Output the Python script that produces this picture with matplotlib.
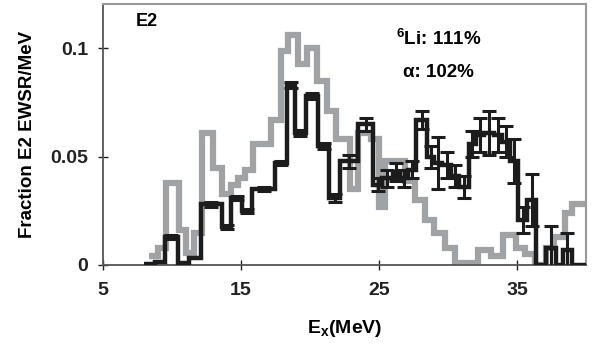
import matplotlib
matplotlib.use("Agg")
import matplotlib.pyplot as plt
import numpy as np

# ---- data ----
# grey histogram (alpha scattering)
gray_edges = [8.3, 9.0, 9.6, 10.5, 11.0, 11.6, 12.2, 13.0, 13.6, 14.3,
              14.8, 15.3, 15.9, 17.2, 17.9, 18.4, 19.1, 19.8, 20.5, 21.2,
              21.9, 22.9, 23.5, 24.4, 25.0, 25.4, 26.9, 27.6, 28.3, 29.0,
              29.8, 30.5, 32.2, 33.1, 34.0, 34.9, 35.6, 36.3, 37.1, 37.7,
              38.5, 39.0, 40.0]
gray_vals = [0.004, 0.008, 0.038, 0.016, 0.0055, 0.015, 0.061, 0.045, 0.033, 0.037,
             0.040, 0.044, 0.056, 0.067, 0.099, 0.106, 0.093, 0.100, 0.085, 0.071,
             0.058, 0.035, 0.061, 0.058, 0.027, 0.048, 0.039, 0.030, 0.021, 0.015,
             0.008, 0.001, 0.007, 0.004, 0.014, 0.008, 0.005, 0.0, 0.008, 0.013,
             0.024, 0.028]

# black histogram (6Li scattering) with errors
black_edges = [8.0, 8.8, 9.5, 10.4, 11.2, 12.1, 13.6, 14.3, 15.1, 15.8,
               17.5, 18.3, 18.9, 19.7, 20.6, 21.4, 22.2, 23.5, 24.6, 25.2,
               26.0, 26.5, 27.1, 27.7, 28.5, 29.0, 29.6, 30.2, 30.8, 31.5,
               32.0, 32.6, 33.3, 33.9, 34.5, 35.1, 35.7, 36.4, 37.1, 37.8,
               38.3, 39.0, 40.0]
black_vals = [0.0005, 0.0015, 0.013, 0.001, 0.003, 0.028, 0.0175, 0.031, 0.025, 0.035,
              0.047, 0.083, 0.061, 0.078, 0.055, 0.031, 0.048, 0.065, 0.037, 0.040,
              0.043, 0.040, 0.044, 0.067, 0.050, 0.047, 0.046, 0.041, 0.036, 0.056,
              0.060, 0.061, 0.060, 0.057, 0.048, 0.021, 0.030, 0.0, 0.008, 0.0,
              0.007, 0.0]
black_errs = [0, 0, 0.001, 0, 0, 0.001, 0.001, 0.001, 0.001, 0.001,
              0.001, 0.0015, 0.0015, 0.0015, 0.0015, 0.002, 0.003, 0.003, 0.003, 0.004,
              0.004, 0.004, 0.004, 0.004, 0.005, 0.012, 0.006, 0.005, 0.005, 0.006,
              0.008, 0.010, 0.008, 0.007, 0.010, 0.006, 0.012, 0, 0.010, 0,
              0.008, 0]

x_ticks = [5, 15, 25, 35]
y_ticks = [0, 0.05, 0.1]
y_tick_labels = ["0", "0.05", "0.1"]

# ---- style ----
plt.rcParams["font.family"] = ["Liberation Sans", "DejaVu Sans"]
plt.rcParams["font.weight"] = "bold"
plt.rcParams["mathtext.fontset"] = "custom"
plt.rcParams["mathtext.rm"] = "Liberation Sans:bold"
plt.rcParams["mathtext.it"] = "Liberation Sans:bold"
plt.rcParams["mathtext.bf"] = "Liberation Sans:bold"
plt.rcParams["mathtext.default"] = "rm"

fig = plt.figure(figsize=(5.97, 3.49), dpi=100)
ax = fig.add_axes([0.1725, 0.2407, 0.8091, 0.7478])

gray_col = "#a0a3a6"
black_col = "#1c1c1c"

ax.stairs(gray_vals, gray_edges, baseline=None, color=gray_col, linewidth=4.5, zorder=2)

# error bars at bin centres
b_edges = np.array(black_edges)
centres = 0.5 * (b_edges[:-1] + b_edges[1:])
errs = np.array(black_errs)
has_err = errs > 0
ax.errorbar(centres[has_err], np.array(black_vals)[has_err], yerr=errs[has_err],
            fmt="none", ecolor=black_col, elinewidth=2.2, capsize=5, capthick=2.2, zorder=3)
ax.stairs(black_vals, black_edges, baseline=None, color=black_col, linewidth=3.2, zorder=4)

ax.set_xlim(5, 40)
ax.set_ylim(0, 0.1205)
ax.set_xticks(x_ticks)
ax.set_yticks(y_ticks)
ax.set_yticklabels(y_tick_labels)
ax.tick_params(direction="inout", length=7, width=1, labelsize=14, colors="#222222")
ax.tick_params(axis="y", pad=7)
ax.tick_params(axis="x", pad=9)
for lab in ax.get_xticklabels() + ax.get_yticklabels():
    lab.set_fontweight("bold")

for side in ["top", "right"]:
    ax.spines[side].set_color("#999999")
    ax.spines[side].set_linewidth(1.5)
for side in ["left", "bottom"]:
    ax.spines[side].set_color("#555555")
    ax.spines[side].set_linewidth(1.3)

ax.set_xlabel("E$_{x}$(MeV)", fontsize=14, fontweight="bold")
ax.set_ylabel("Fraction E2 EWSR/MeV", fontsize=13.5, fontweight="bold")
ax.yaxis.set_label_coords(-0.138, 0.5)
ax.xaxis.set_label_coords(0.5, -0.203)

ax.text(8.2, 0.1125, "E2", fontsize=13, fontweight="bold", ha="center", va="center")
ax.text(29.3, 0.1045, "$^{6}$Li: 111%", fontsize=13.5, fontweight="bold", ha="center", va="center")
ax.text(29.3, 0.089, "\u03b1: 102%", fontsize=13.5, fontweight="bold", ha="center", va="center")

fig.savefig("out.png", dpi=100)
